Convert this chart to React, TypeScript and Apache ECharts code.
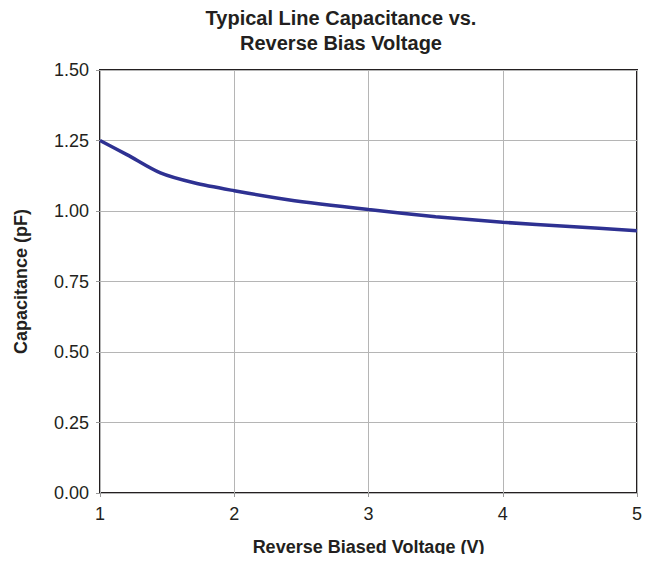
import React, { useEffect, useRef } from "react";
import * as echarts from "echarts";

const voltage = [1, 1.2, 1.45, 1.7, 2, 2.4, 3, 3.5, 4, 4.5, 5];
const capacitance = [1.25, 1.2, 1.135, 1.1, 1.072, 1.04, 1.005, 0.98, 0.96, 0.945, 0.93];
const titleLines = ["Typical Line Capacitance vs.", "Reverse Bias Voltage"];
const xName = "Reverse Biased Voltage (V)";
const yName = "Capacitance (pF)";

export default function App() {
  const ref = useRef<HTMLDivElement>(null);
  useEffect(() => {
    if (!ref.current) return;
    const chart = echarts.init(ref.current, null, { renderer: "svg" });
    const font = "'Liberation Sans', Arial, sans-serif";
    chart.setOption({
      animation: false,
      backgroundColor: "#ffffff",
      textStyle: { fontFamily: font },
      title: {
        text: titleLines.join("\n"),
        left: 328,
        textAlign: "center",
        top: -8,
        textStyle: { fontSize: 20, fontWeight: "bold", color: "#231f20", lineHeight: 25, fontFamily: font },
      },
      grid: {
        left: 92, right: 13, top: 62, bottom: 69,
        containLabel: false, outerBoundsMode: "none",
        show: true, borderColor: "#231f20", borderWidth: 2,
      },
      xAxis: {
        type: "value",
        min: 1,
        max: 5,
        interval: 1,
        name: xName,
        nameLocation: "middle",
        nameGap: 45,
        nameTextStyle: { fontSize: 18, fontWeight: "bold", color: "#231f20", fontFamily: font },
        axisLine: { show: false },
        axisTick: { show: true, length: 4, lineStyle: { color: "#999" } },
        axisLabel: { fontSize: 18, color: "#231f20", margin: 12, fontFamily: font },
        splitLine: { show: true, lineStyle: { color: "#b5b5b5", width: 1 } },
      },
      yAxis: {
        type: "value",
        min: 0,
        max: 1.5,
        interval: 0.25,
        name: yName,
        nameLocation: "middle",
        nameGap: 70,
        nameTextStyle: { fontSize: 18, fontWeight: "bold", color: "#231f20", fontFamily: font },
        axisLine: { show: false },
        axisTick: { show: true, length: 4, lineStyle: { color: "#999" } },
        axisLabel: { fontSize: 18, color: "#231f20", margin: 11, formatter: (v: number) => v.toFixed(2), fontFamily: font },
        splitLine: { show: true, lineStyle: { color: "#b5b5b5", width: 1 } },
      },
      series: [
        {
          type: "line",
          data: voltage.map((v, i) => [v, capacitance[i]]),
          smooth: 0.3,
          showSymbol: false,
          lineStyle: { color: "#2e3192", width: 3.5 },
        },
      ],
    });
    return () => chart.dispose();
  }, []);
  return <div ref={ref} style={{ width: 642, height: 554, marginBottom: -8 }} />;
}
